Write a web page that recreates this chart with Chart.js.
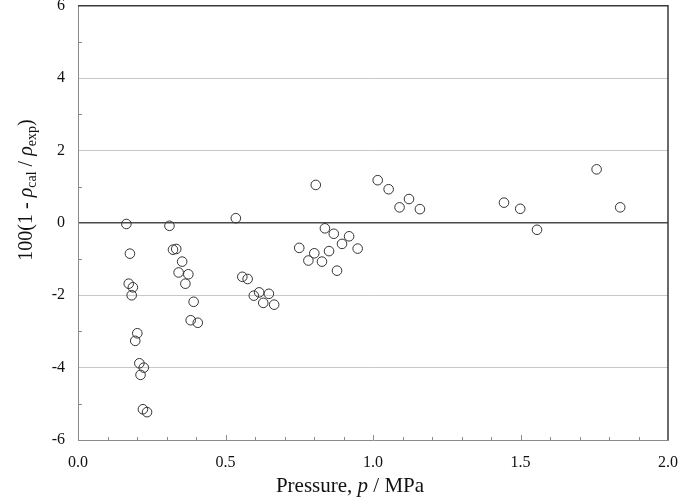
<!DOCTYPE html>
<html>
<head>
<meta charset="utf-8">
<script src="https://cdn.jsdelivr.net/npm/chart.js@4/dist/chart.umd.min.js"></script>
<style>
  body { margin: 0; background: #fff; }
</style>
</head>
<body>
<canvas id="devChart" width="678" height="498"></canvas>
<script>
// pressure p / MPa and deviation 100(1 - rho_cal/rho_exp)
const pressure = [
  0.164, 0.176, 0.172, 0.186, 0.182, 0.201, 0.194, 0.208, 0.223, 0.212, 0.220, 0.234,
  0.310, 0.322, 0.333, 0.353, 0.341, 0.374, 0.364, 0.392, 0.382, 0.406,
  0.535, 0.557, 0.575, 0.596, 0.614, 0.647, 0.628, 0.665,
  0.750, 0.806, 1.016, 1.053, 1.122, 1.090, 1.159, 0.837, 0.867, 0.919, 0.895, 0.948,
  0.801, 0.851, 0.781, 0.827, 0.878,
  1.758, 1.444, 1.499, 1.838, 1.556
];
const deviation = [
  -0.03, -0.85, -1.68, -1.78, -2.00, -3.05, -3.26, -3.88, -4.00, -4.20, -5.15, -5.23,
  -0.08, -0.74, -0.72, -1.07, -1.37, -1.42, -1.68, -2.18, -2.69, -2.76,
  0.13, -1.49, -1.55, -2.01, -1.92, -1.96, -2.21, -2.26,
  -0.69, 1.05, 1.18, 0.93, 0.66, 0.43, 0.38, -0.15, -0.30, -0.37, -0.58, -0.71,
  -0.84, -0.78, -1.04, -1.07, -1.32,
  1.48, 0.56, 0.39, 0.43, -0.19
];
const xTicks = [0, 0.5, 1.0, 1.5, 2.0];
const yTicks = [-6, -4, -2, 0, 2, 4, 6];

const serif = "'Liberation Serif', 'Times New Roman', serif";
const points = pressure.map((p, i) => ({ x: p, y: deviation[i] }));

// no extra room for half-labels at the ends: the plot fills to the edges like the original
const noPad = s => { s.paddingTop = 0; s.paddingBottom = 0; s.paddingLeft = 0; s.paddingRight = 0; };

// frame, inward tick marks and the two axis titles (with italics / subscripts)
const decor = {
  id: 'decor',
  afterDatasetsDraw(chart) {
    const { ctx, chartArea: a, scales: { x, y } } = chart;
    ctx.save();
    ctx.strokeStyle = '#3a3a3a';
    ctx.lineWidth = 1.5;
    ctx.beginPath();
    ctx.moveTo(a.left, a.top); ctx.lineTo(a.right, a.top); ctx.lineTo(a.right, a.bottom);
    ctx.stroke();

    ctx.strokeStyle = '#8a8a8a';
    ctx.lineWidth = 1;
    ctx.beginPath();
    for (let i = 1; i < 20; i++) {
      const v = i / 10;
      const px = Math.round(x.getPixelForValue(v)) + 0.5;
      const len = i % 5 === 0 ? 5 : 3;
      ctx.moveTo(px, a.bottom); ctx.lineTo(px, a.bottom - len);
    }
    for (let v = -5; v <= 5; v += 2) {
      const py = Math.round(y.getPixelForValue(v)) + 0.5;
      ctx.moveTo(a.left, py); ctx.lineTo(a.left + 4, py);
    }
    ctx.stroke();
    ctx.restore();
  },
  afterDraw(chart) {
    const { ctx } = chart;
    ctx.save();
    ctx.fillStyle = '#111';
    ctx.textBaseline = 'alphabetic';

    const drawRuns = (runs) => {
      let w = 0;
      runs.forEach(r => { ctx.font = r.font; r.w = ctx.measureText(r.t).width; w += r.w; });
      let cx = -w / 2;
      runs.forEach(r => { ctx.font = r.font; ctx.fillText(r.t, cx, r.dy || 0); cx += r.w; });
    };

    // x title
    ctx.save();
    ctx.translate(350, 492);
    drawRuns([
      { t: 'Pressure, ', font: '21px ' + serif },
      { t: 'p', font: 'italic 21px ' + serif },
      { t: ' / MPa', font: '21px ' + serif }
    ]);
    ctx.restore();

    // y title
    ctx.save();
    ctx.translate(32, 190);
    ctx.rotate(-Math.PI / 2);
    drawRuns([
      { t: '100(1 - ', font: '20px ' + serif },
      { t: 'ρ', font: 'italic 20px ' + serif },
      { t: 'cal', font: '14px ' + serif, dy: 4 },
      { t: ' / ', font: '20px ' + serif },
      { t: 'ρ', font: 'italic 20px ' + serif },
      { t: 'exp', font: '14px ' + serif, dy: 4 },
      { t: ')', font: '20px ' + serif }
    ]);
    ctx.restore();
    ctx.restore();
  }
};

new Chart(document.getElementById('devChart'), {
  type: 'scatter',
  data: {
    datasets: [{
      data: points,
      pointRadius: 4.8,
      pointHoverRadius: 4.8,
      pointBorderWidth: 1,
      borderColor: '#333',
      backgroundColor: 'rgba(0,0,0,0)'
    }]
  },
  options: {
    responsive: false,
    animation: false,
    layout: { padding: { top: 5, right: 10, left: 0, bottom: 0 } },
    plugins: { legend: { display: false }, tooltip: { enabled: false } },
    scales: {
      x: {
        type: 'linear',
        min: 0, max: 2,
        afterBuildTicks: s => { s.ticks = xTicks.map(v => ({ value: v })); },
        afterFit: s => { s.height = 58; noPad(s); },
        ticks: {
          padding: 13,
          color: '#111',
          font: { family: serif, size: 16 },
          maxRotation: 0,
          callback: v => Number(v).toFixed(1)
        },
        grid: { display: false, drawTicks: false },
        border: { color: '#8a8a8a', width: 1 }
      },
      y: {
        type: 'linear',
        min: -6, max: 6,
        afterBuildTicks: s => { s.ticks = yTicks.map(v => ({ value: v })); },
        afterFit: s => { s.width = 78; noPad(s); },
        ticks: {
          padding: 13,
          color: '#111',
          font: { family: serif, size: 16 },
          callback: v => String(v)
        },
        grid: {
          drawTicks: false,
          color: c => {
            const v = c.tick.value;
            if (v === 0) return '#4a4a4a';
            if (v === -6 || v === 6) return 'rgba(0,0,0,0)';
            return '#c8c8c8';
          },
          lineWidth: c => (c.tick.value === 0 ? 1.5 : 1)
        },
        border: { color: '#8a8a8a', width: 1 }
      }
    }
  },
  plugins: [decor]
});
</script>
</body>
</html>
